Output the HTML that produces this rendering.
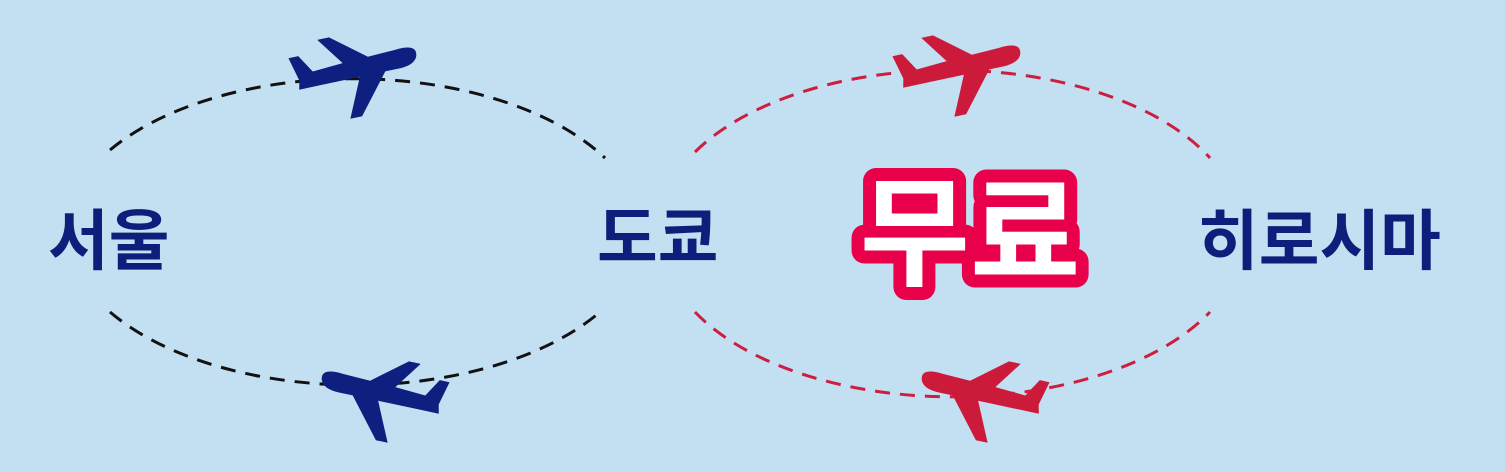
<!DOCTYPE html>
<html><head><meta charset="utf-8"><style>
html,body{margin:0;padding:0;background:#c3dff2;}
svg{display:block}
text{font-family:"Liberation Sans","Noto Sans CJK KR","NanumGothic",sans-serif;font-weight:bold;}
</style></head><body>
<svg width="1505" height="472" viewBox="0 0 1505 472" xmlns="http://www.w3.org/2000/svg">
<defs>
<path id="pl" d="M60,-3 C60,-10 50,-11 40,-10 L12,-9 L-22,-36 L-34,-36 L-14,-8 L-45,-6 L-56,-24 L-66,-24 L-60,0 L-62,9 L-45,9 L0,9 L-18,48 L-6,48 L26,9 L40,9 C52,9 60,5 60,-3Z"/>
</defs>
<rect width="1505" height="472" fill="#c3dff2"/>
<g fill="none" stroke-width="3" stroke-dasharray="15,10">
<path d="M110,150 A290,157 0 0 1 605,158" stroke="#111"/>
<path d="M110,312 A290,157 0 0 0 600,312" stroke="#111"/>
<path d="M695,152 A290,157 0 0 1 1210,158" stroke="#cc1f3f"/>
<path d="M695,312 A290,157 0 0 0 1210,312" stroke="#cc1f3f"/>
</g>
<use href="#pl" fill="#0d1f7f" transform="translate(358,68) rotate(-12)"/>
<use href="#pl" fill="#0d1f7f" transform="translate(380,392) scale(-1,1) rotate(-12)"/>
<use href="#pl" fill="#cc1a3a" transform="translate(962,66) rotate(-12)"/>
<use href="#pl" fill="#cc1a3a" transform="translate(980,392) scale(-1,1) rotate(-12)"/>
<g fill="#0d1f7a" font-size="66">
<text x="48" y="264">서울</text>
<text x="597" y="261">도쿄</text>
<text x="1198" y="264">히로시마</text>
</g>
<text x="970" y="276" text-anchor="middle" font-size="120" fill="#fff" stroke="#e8004a" stroke-width="26" stroke-linejoin="round" paint-order="stroke">무료</text>
</svg>
</body></html>
